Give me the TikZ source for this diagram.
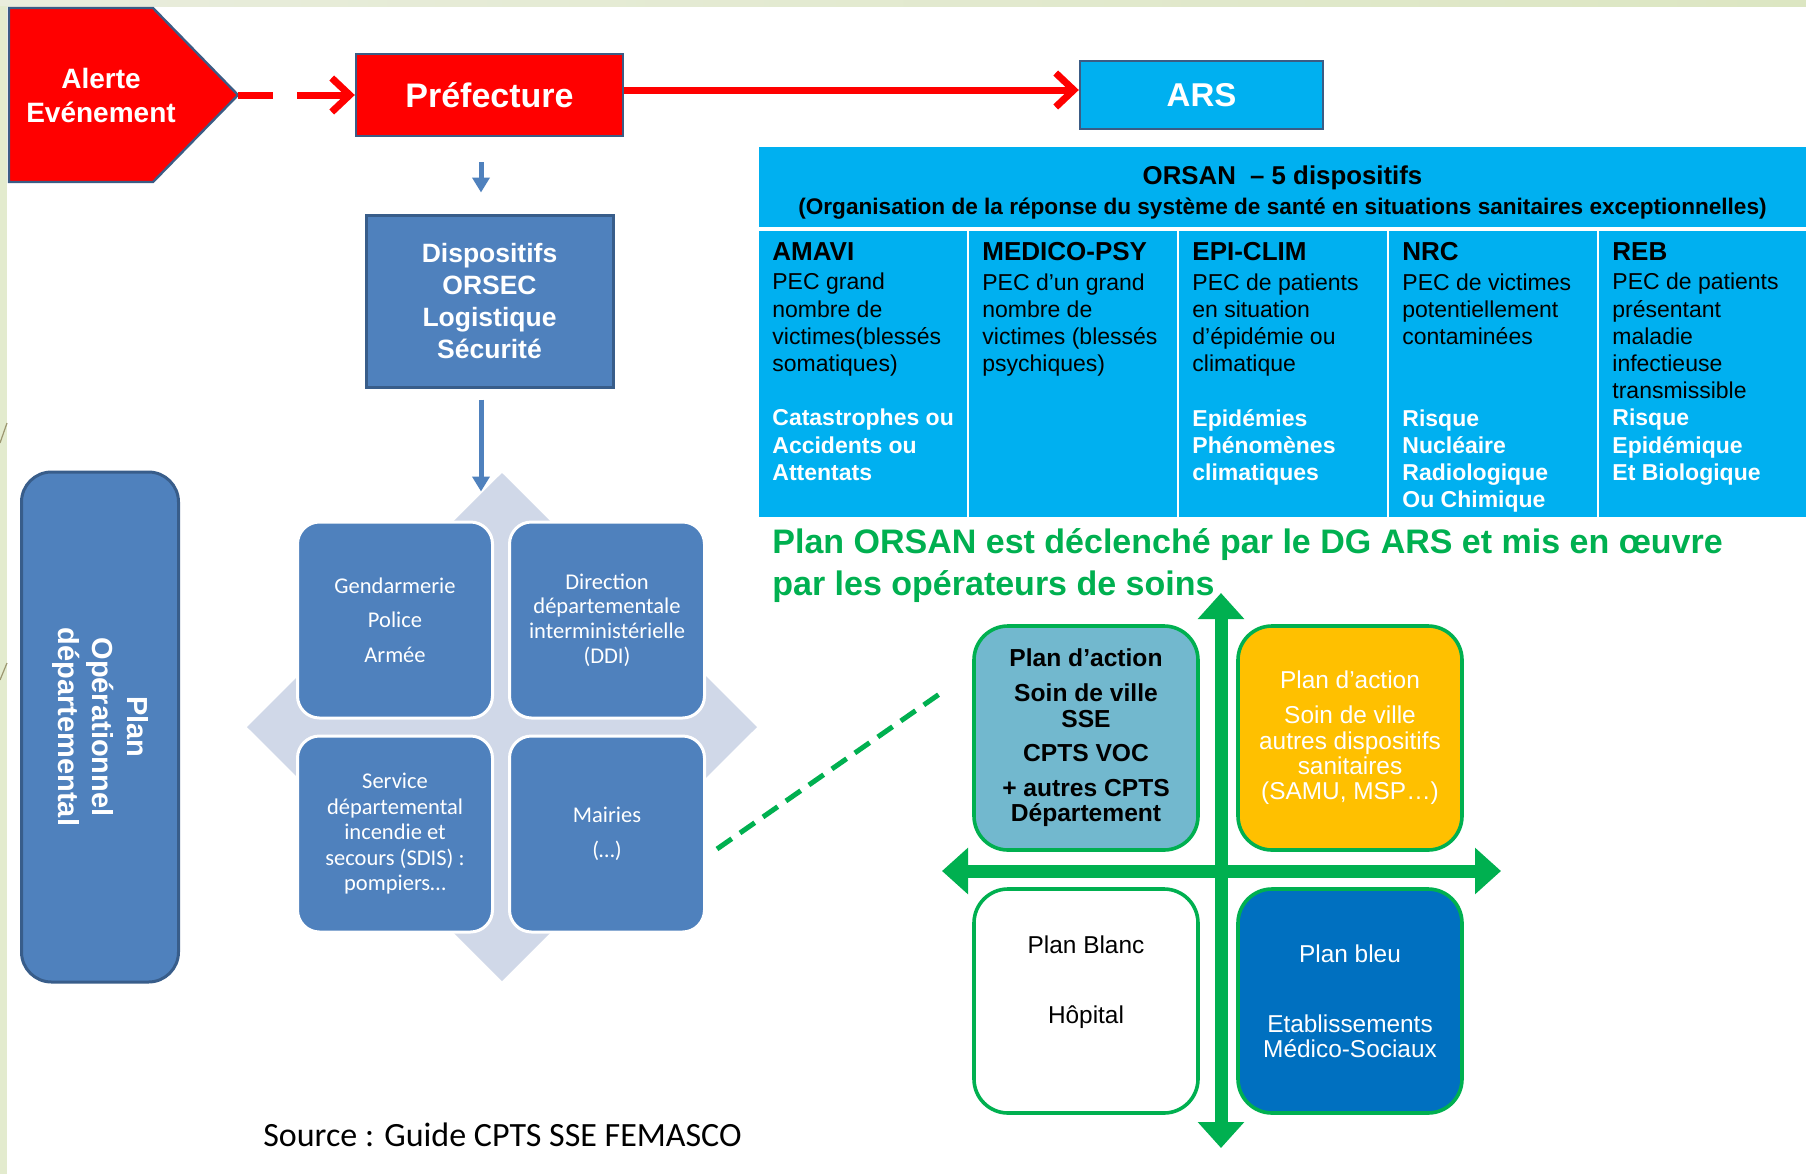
\documentclass[tikz,border=0pt]{standalone}
\usepackage{fontspec}
\setmainfont{Liberation Sans}
\newfontfamily\calfont{Carlito}
\usetikzlibrary{arrows.meta, calc}

\definecolor{alertred}{HTML}{FF0000}
\definecolor{edgeblue}{HTML}{3B5C85}
\definecolor{arscyan}{HTML}{00B0F0}
\definecolor{steel}{HTML}{4F81BD}
\definecolor{steeledge}{HTML}{385D8A}
\definecolor{diamondgray}{HTML}{D0D8E8}
\definecolor{orsangreen}{HTML}{00B050}
\definecolor{quadteal}{HTML}{72B8CE}
\definecolor{quadyellow}{HTML}{FFC000}
\definecolor{quadblue}{HTML}{0070C0}
\definecolor{stripA}{HTML}{E9EDDD}
\definecolor{stripB}{HTML}{DCE6C2}
\definecolor{twig}{HTML}{9C9670}

\newcommand{\colhead}[1]{{\fontsize{13}{13.65}\selectfont\bfseries #1}}
\newcommand{\colrisk}[1]{\textcolor{white}{\bfseries #1}}

\tikzset{
  redbox/.style={rectangle, fill=alertred, draw=edgeblue, line width=1.2pt, text=white, inner sep=0pt},
  bluebox/.style={rectangle, fill=steel, draw=steeledge, line width=1.5pt, text=white, inner sep=0pt, align=center},
  smartbox/.style={rectangle, rounded corners=11pt, fill=steel, draw=white, line width=1.5pt, text=white,
    minimum width=97.5pt, minimum height=98pt, inner sep=0pt, align=center, font=\calfont\fontsize{11.25}{#1}\selectfont},
  quadbox/.style={rectangle, rounded corners=17pt, draw=orsangreen, line width=1.8pt,
    minimum width=112pt, minimum height=112pt, inner sep=0pt},
  coltext/.style={anchor=north west, inner sep=0pt, align=left, font=\fontsize{11.5}{13.6}\selectfont},
  redarrow/.style={alertred, line width=3.5pt, -{Straight Barb[length=9pt, width=17pt]}},
  bluearrow/.style={steel, line width=2.5pt, -{Triangle[length=7.5pt, width=8.5pt]}},
  axisarrow/.style={orsangreen, line width=6.5pt, {Triangle[length=13pt, width=22.5pt]}-{Triangle[length=13pt, width=22.5pt]}},
}

\begin{document}
\begin{tikzpicture}[x=0.5pt, y=-0.5pt]

% Page and slide edges
\useasboundingbox (0,0) rectangle (1806,1174);
\fill[white] (0,0) rectangle (1806,1174);
\shade[left color=stripA, right color=stripB] (0,0) rectangle (1806,6);
\fill[stripB!80!white] (0,6) rectangle (7,1174);
\draw[twig, line width=0.6pt] (0,443) -- (7,423);
\draw[twig, line width=0.6pt] (0,680) -- (7,663);

% Alerte (arrow shape)
\filldraw[fill=alertred, draw=edgeblue, line width=1.2pt] (9,8) -- (153,8) -- (238,95) -- (153,182) -- (9,182) -- cycle;
\coordinate (alertTip) at (238,95);
\node[text=white, align=center, font=\bfseries\fontsize{14}{17}\selectfont] (alerte) at (101,95) {Alerte\\Evénement};

% Top row
\node[redbox, minimum width=133.5pt, minimum height=41pt, font=\bfseries\fontsize{17}{20}\selectfont] (pref) at (489.5,95) {Préfecture};
\node[redbox, fill=arscyan, minimum width=121.5pt, minimum height=34pt, font=\bfseries\fontsize{16.5}{20}\selectfont] (ars) at (1201.5,95) {ARS};

\draw[redarrow, dash pattern=on 17.5pt off 12pt on 40pt off 0pt] (alertTip) -- (pref.west);
\draw[redarrow] ([yshift=2.5pt]pref.east) -- ([yshift=2.5pt]ars.west);

% ORSEC column
\node[bluebox, minimum width=123.5pt, minimum height=86pt, font=\bfseries\fontsize{13.25}{15.85}\selectfont] (disp) at (489.5,301) {Dispositifs\\ORSEC\\Logistique\\Sécurité};
\draw[bluearrow] ($(pref.south)+(-8.5,25)$) -- ($(disp.north)+(-8.5,-21)$);
\draw[bluearrow] ($(disp.south)+(-8.5,11)$) -- ($(disp.south)+(-8.5,103)$);

% Matrix of services
\fill[diamondgray] (502,473) -- (757,727) -- (502,981) -- (247,727) -- cycle;
\node[smartbox=17.25pt] (gend) at (395,620) {Gendarmerie\\Police\\Armée};
\node[smartbox=12.3pt] (ddi) at (607,620) {Direction\\départementale\\interministérielle\\(DDI)};
\node[smartbox=12.75pt] (sdis) at (395,834) {Service\\départemental\\incendie et\\secours (SDIS) :\\pompiers…};
\node[smartbox=17.5pt] (mairies) at (607,834) {Mairies\\(…)};

% Plan Operationnel
\node[bluebox, rotate=-90, rounded corners=15pt, minimum width=255pt, minimum height=78.5pt,
  font=\bfseries\fontsize{14.5}{17.25}\selectfont] (planop) at (100,727) {Plan\\Opérationnel\\départemental};

% ORSAN table
\node[fill=arscyan, minimum width=523.5pt, minimum height=40pt, inner sep=0pt, anchor=north west] (orsan) at (759,147) {};
\node[font=\bfseries\fontsize{12.9}{14}\selectfont, inner sep=0pt] (orsanTitle) at (1282.5,178) {ORSAN \ – 5 dispositifs};
\node[font=\bfseries\fontsize{11.3}{12}\selectfont, inner sep=0pt] (orsanSub) at (1282.5,209) {(Organisation de la réponse du système de santé en situations sanitaires exceptionnelles)};
\foreach \i in {0,...,4}
  \fill[arscyan] ({759+210*\i},231) rectangle +(208,286);

\node[coltext] (amavi) at (772,242) {\colhead{AMAVI}\\[1.2pt]PEC grand\\nombre de\\victimes(blessés\\somatiques)\\\mbox{}\\
  \colrisk{Catastrophes ou}\\\colrisk{Accidents ou}\\\colrisk{Attentats}};
\node[coltext] (medico) at (982,242) {\colhead{MEDICO-PSY}\\[1.2pt]PEC d’un grand\\nombre de\\victimes (blessés\\psychiques)};
\node[coltext] (epiclim) at (1192,242) {\colhead{EPI-CLIM}\\[1.2pt]PEC de patients\\en situation\\d’épidémie ou\\climatique\\\mbox{}\\
  \colrisk{Epidémies}\\\colrisk{Phénomènes}\\\colrisk{climatiques}};
\node[coltext] (nrc) at (1402,242) {\colhead{NRC}\\[1.2pt]PEC de victimes\\potentiellement\\contaminées\\\mbox{}\\\mbox{}\\
  \colrisk{Risque}\\\colrisk{Nucléaire}\\\colrisk{Radiologique}\\\colrisk{Ou Chimique}};
\node[coltext] (reb) at (1612,242) {\colhead{REB}\\[1.2pt]PEC de patients\\présentant\\maladie\\infectieuse\\transmissible\\
  \colrisk{Risque}\\\colrisk{Epidémique}\\\colrisk{Et Biologique}};

% Statement
\node[anchor=base west, inner sep=0pt, text=orsangreen, font=\bfseries\fontsize{17}{21}\selectfont] (stateA) at (772,553) {Plan ORSAN est déclenché par le DG ARS et mis en œuvre};
\node[anchor=base west, inner sep=0pt, text=orsangreen, font=\bfseries\fontsize{17}{21}\selectfont] (stateB) at (772,595) {par les opérateurs de soins};

% Axes of the care plans
\coordinate (axTop) at (1221,593);
\coordinate (axBot) at (1221,1148);
\coordinate (axLeft) at (942,871);
\coordinate (axRight) at (1501,871);
\draw[axisarrow] (axBot) -- (axTop);
\draw[axisarrow] (axLeft) -- (axRight);

% Care plans
\node[quadbox, fill=quadteal, align=center, font=\bfseries\fontsize{12.3}{12.8}\selectfont] (actionSSE) at (1086,738)
  {Plan d’action\\[4.5pt]Soin de ville\\SSE\\[4.5pt]CPTS VOC\\[4.5pt]+ autres CPTS\\Département};
\node[quadbox, fill=quadyellow, text=white, align=center, font=\fontsize{12.2}{12.65}\selectfont] (actionVille) at (1350,738)
  {Plan d’action\\[4.85pt]Soin de ville\\autres dispositifs\\sanitaires\\(SAMU, MSP…)};
\node[quadbox, fill=white] (blanc) at (1086,1001) {};
\node[align=center, font=\fontsize{12.2}{13}\selectfont] (blancText) at (1086,982) {Plan Blanc\\[22pt]Hôpital};
\node[quadbox, fill=quadblue, text=white, align=center, font=\fontsize{12.2}{12.5}\selectfont] (bleu) at (1350,1001)
  {Plan bleu\\[22.5pt]Etablissements\\Médico-Sociaux};

% Link from the town halls
\draw[orsangreen, line width=2.5pt, dash pattern=on 9pt off 5pt] ($(mairies.east)+(11,15)$) -- ($(actionSSE.west)+(-27,-48)$);

% Source
\node[font=\calfont\fontsize{17}{20}\selectfont] (source) at (502.5,1135) {Source : Guide CPTS SSE FEMASCO};

\end{tikzpicture}
\end{document}
